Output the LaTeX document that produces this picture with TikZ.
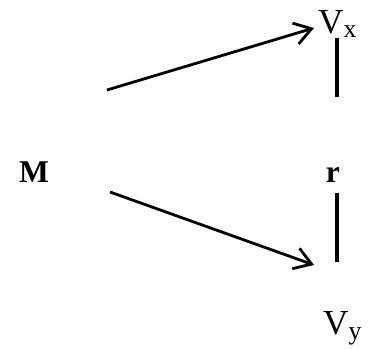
\documentclass[tikz,border=0pt]{standalone}
\usepackage{fontspec}
\setmainfont{Liberation Serif}
\usetikzlibrary{arrows.meta}

\newcommand{\sublbl}[1]{\raisebox{-0.3ex}{\fontsize{22}{24}\selectfont #1}}

\begin{document}
\begin{tikzpicture}[
        x=0.03cm, y=-0.03cm,
        lbl/.style={inner sep=0pt, font=\fontsize{27}{30}\selectfont\bfseries},
        vlbl/.style={inner sep=0pt, anchor=west, font=\fontsize{30}{34}\selectfont},
        arr/.style={line width=2.4pt, -{Straight Barb[length=5mm, width=6.5mm, line width=2.4pt]}},
        bar/.style={line width=2.8pt},
    ]
    \useasboundingbox (0,0) rectangle (376,349);

    % ---- labels ----
    \node[lbl] (m) at (34,172) {M};
    \node[lbl] (r) at (333,175) {r};
    \node[vlbl] (vx) at (318,24) {V\sublbl{x}};
    \node[vlbl] (vy) at (323,328) {V\sublbl{y}};

    % ---- free ends ----
    \coordinate (a1) at (107,90);
    \coordinate (b1) at (314,28);
    \coordinate (a2) at (110,192);
    \coordinate (b2) at (314,265);
    \coordinate (vxtop) at (337,38);
    \coordinate (vxend) at (337,97);
    \coordinate (rtop) at (337,193);
    \coordinate (rend) at (337,262);

    % ---- arrows ----
    \draw[arr] (a1) -- (b1);
    \draw[arr] (a2) -- (b2);

    % ---- bars ----
    \draw[bar] (vxtop) -- (vxend);
    \draw[bar] (rtop) -- (rend);
\end{tikzpicture}
\end{document}
